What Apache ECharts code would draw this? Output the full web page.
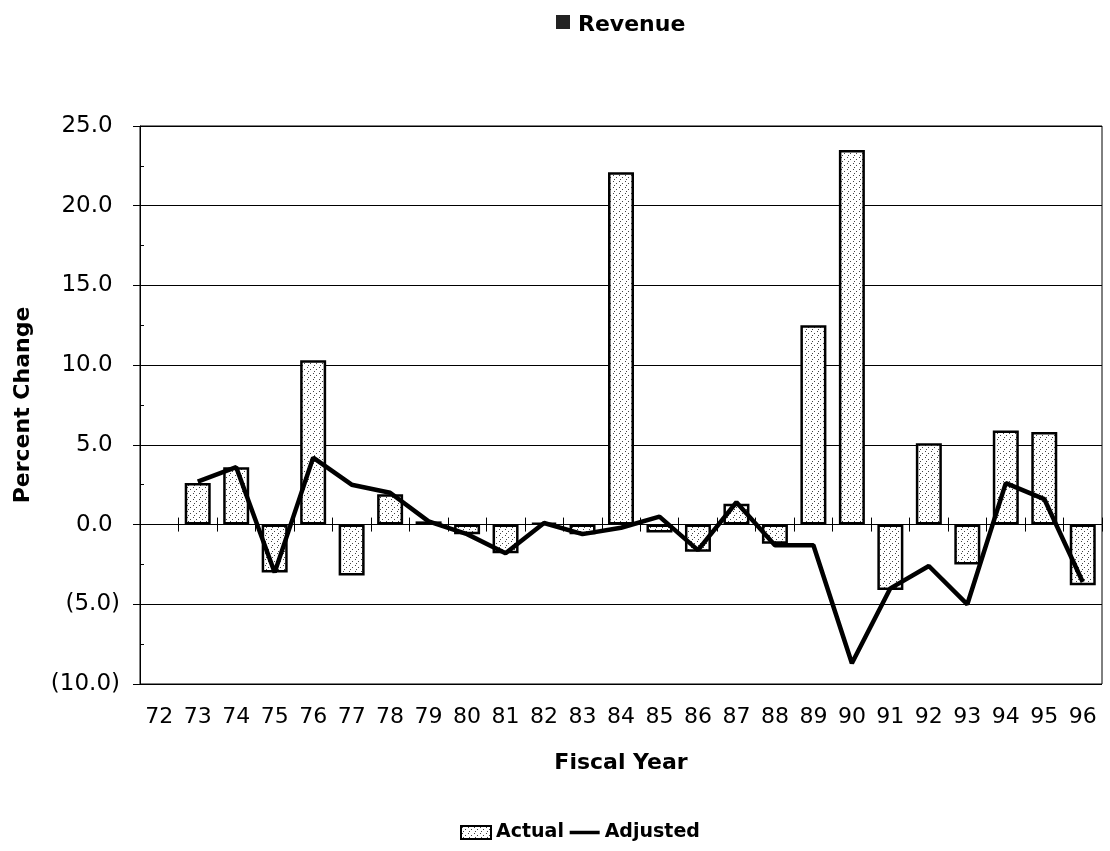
<!DOCTYPE html>
<html>
<head>
<meta charset="utf-8">
<title>Revenue</title>
<script src="https://cdn.jsdelivr.net/npm/echarts@6/dist/echarts.min.js"></script>
<style>
    html, body { margin: 0; padding: 0; background: #fff; }
    #main { width: 1110px; height: 851px; }
</style>
</head>
<body>
<div id="main"></div>
<script>
// 数据
var years = ['72', '73', '74', '75', '76', '77', '78', '79', '80', '81', '82', '83', '84',
    '85', '86', '87', '88', '89', '90', '91', '92', '93', '94', '95', '96'];
var actual = [null, 2.6, 3.6, -3.0, 10.3, -3.2, 1.9, 0.2, -0.6, -1.8, 0.1, -0.6, 22.1,
    -0.5, -1.7, 1.3, -1.2, 12.5, 23.5, -4.1, 5.1, -2.5, 5.9, 5.8, -3.8];
var adjusted = [null, 2.7, 3.6, -3.0, 4.2, 2.5, 2.0, 0.2, -0.6, -1.8, 0.1, -0.6, -0.2,
    0.5, -1.6, 1.4, -1.3, -1.3, -8.7, -4.0, -2.6, -5.0, 2.6, 1.6, -3.6];
var yMin = -10, yMax = 25, yStep = 5;

var FONT = 'DejaVu Sans';

// 点状填充
function dotPattern() {
    var c = document.createElement('canvas');
    c.width = 6;
    c.height = 6;
    var ctx = c.getContext('2d');
    ctx.fillStyle = '#ffffff';
    ctx.fillRect(0, 0, 6, 6);
    ctx.fillStyle = '#444444';
    ctx.fillRect(1, 1, 1, 1);
    ctx.fillRect(4, 3, 1, 1);
    ctx.fillRect(2, 5, 1, 1);
    return c;
}
var pattern = { image: dotPattern(), repeat: 'repeat' };

var myChart = echarts.init(document.getElementById('main'));

var option = {
    backgroundColor: '#fff',
    animation: false,
    title: {
        text: 'Revenue',
        left: 573,
        top: 9,
        textStyle: { fontFamily: FONT, fontSize: 22, fontWeight: 'bold', color: '#000' }
    },
    graphic: [{
        type: 'rect',
        left: 556,
        top: 15,
        shape: { width: 14, height: 14 },
        style: { fill: '#222' }
    }],
    legend: {
        left: 455,
        top: 818,
        itemWidth: 30,
        itemHeight: 13,
        itemGap: 4,
        textStyle: { fontFamily: FONT, fontSize: 19, fontWeight: 'bold', color: '#000' },
        data: [
            { name: 'Actual', icon: 'rect' },
            {
                name: 'Adjusted',
                itemStyle: { color: 'transparent', borderColor: 'transparent', opacity: 0 },
                lineStyle: { width: 3.5, color: '#000' }
            }
        ]
    },
    grid: {
        left: 140,
        top: 126,
        right: 8,
        bottom: 167,
        show: true,
        borderColor: '#000',
        borderWidth: 1
    },
    xAxis: [{
        type: 'category',
        data: years,
        position: 'bottom',
        name: 'Fiscal Year',
        nameLocation: 'middle',
        nameGap: 68,
        nameTextStyle: { fontFamily: FONT, fontSize: 22, fontWeight: 'bold', color: '#000' },
        axisLine: { show: false, onZero: false },
        axisTick: { show: false },
        axisLabel: { fontFamily: FONT, fontSize: 22, color: '#000', margin: 22, interval: 0 }
    }, {
        type: 'category',
        data: years,
        position: 'bottom',
        axisLine: { show: true, onZero: true, onZeroAxisIndex: 0, lineStyle: { color: '#000', width: 1 } },
        axisTick: { show: true, length: 7, lineStyle: { color: '#000' } },
        axisLabel: { show: false }
    }, {
        type: 'category',
        data: years,
        position: 'bottom',
        axisLine: { show: false, onZero: true, onZeroAxisIndex: 0 },
        axisTick: { show: true, inside: true, length: 7, lineStyle: { color: '#000' } },
        axisLabel: { show: false }
    }],
    yAxis: [{
        type: 'value',
        min: yMin,
        max: yMax,
        interval: yStep,
        name: 'Percent Change',
        nameLocation: 'middle',
        nameGap: 106,
        nameTextStyle: { fontFamily: FONT, fontSize: 22, fontWeight: 'bold', color: '#000' },
        axisLine: { show: true, lineStyle: { color: '#000', width: 1 } },
        axisTick: { show: true, length: 7, lineStyle: { color: '#000' } },
        axisLabel: {
            fontFamily: FONT, fontSize: 23, color: '#000', margin: 20,
            formatter: function (v) {
                return v < 0 ? '(' + Math.abs(v).toFixed(1) + ')' : v.toFixed(1) + ' ';
            }
        },
        splitLine: { show: true, lineStyle: { color: '#000', width: 1 } }
    }, {
        type: 'value',
        min: yMin,
        max: yMax,
        interval: yStep / 2,
        position: 'left',
        axisLine: { show: false },
        axisTick: { show: true, inside: true, length: 4, lineStyle: { color: '#000' } },
        axisLabel: { show: false },
        splitLine: { show: false }
    }],
    series: [{
        name: 'Actual',
        type: 'bar',
        xAxisIndex: 0,
        yAxisIndex: 0,
        data: actual,
        barWidth: 26,
        itemStyle: { color: pattern, borderColor: '#000', borderWidth: 2.5 }
    }, {
        name: 'Adjusted',
        type: 'line',
        xAxisIndex: 0,
        yAxisIndex: 0,
        data: adjusted,
        symbol: 'none',
        z: 5,
        lineStyle: { color: '#000', width: 4.5 },
        itemStyle: { color: '#000' }
    }]
};

myChart.setOption(option);
</script>
</body>
</html>
